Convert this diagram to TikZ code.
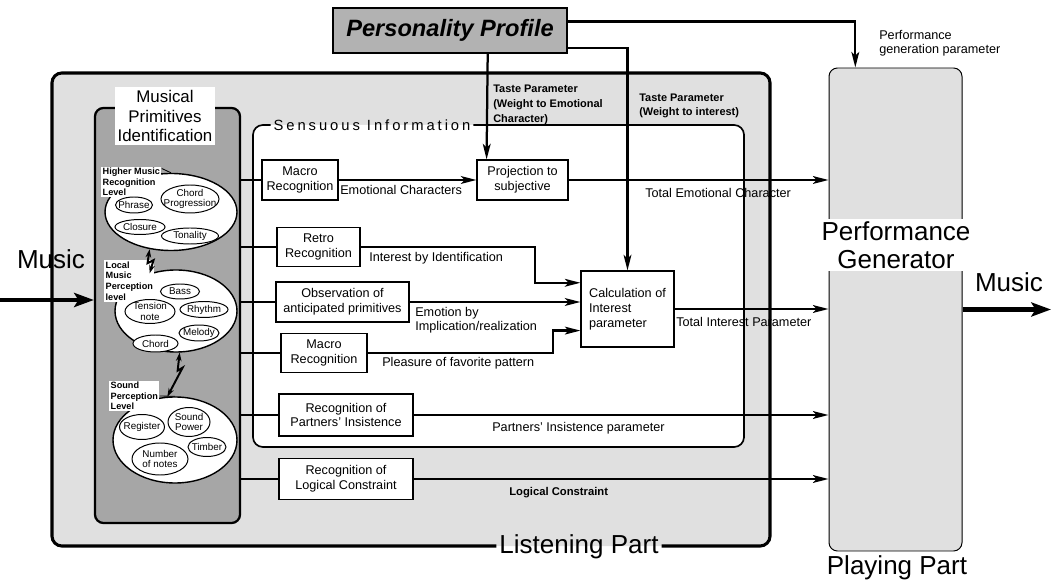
\documentclass[tikz,border=0pt]{standalone}
\usepackage{fontspec}
\setmainfont{Liberation Sans}
\usepackage{tikz}
\usetikzlibrary{calc,arrows.meta,shapes.geometric}
\def\fsz#1#2{\fontsize{#1}{#2}\selectfont}

\begin{document}
\begin{tikzpicture}[x=0.025cm, y=-0.025cm,
	wh/.style 2 args={minimum width=#1*0.025cm, minimum height=#2*0.025cm},
	box/.style={draw, line width=0.8pt, fill=white, align=center, inner sep=1pt, font=\fsz{9}{10.5}},
	ring/.style={ellipse, draw, fill=white, line width=1pt, inner sep=0pt},
	etxt/.style={inner sep=0pt, align=center, font=\fsz{7}{7.5}},
	elli/.style={ring, line width=0.7pt, label={[etxt]center:#1}},
	lvl/.style={fill=white, inner sep=1pt, align=left, anchor=west, font=\bfseries\fsz{6.5}{7.5}},
	lbl/.style={inner sep=0pt, align=left, anchor=west, font=\fsz{9}{10}},
	taste/.style={lbl, font=\bfseries\fsz{7.8}{10.5}},
	conn/.style={line width=1.6pt},
	arr/.style={conn, -{Stealth[length=11pt,width=5.5pt,inset=2.5pt]}},
	fat/.style={line width=3.5pt, -{Stealth[length=14pt,width=10pt,inset=3pt]}},
	zap/.style={line width=1.4pt, {Stealth[length=6pt,width=4pt]}-{Stealth[length=6pt,width=4pt]}},
	big/.style={inner sep=2pt, font=\fsz{18.5}{20}}]
			%%%%% START %%%%%
			\useasboundingbox (0,0) rectangle (1051,582);
			
			% listening part frame
			\fill[black!12, rounded corners=7pt] (52,73) rectangle (770,546);
			\node (lp) [big, anchor=base] at (579,553) {Listening Part};
			\draw[line width=2.2pt, rounded corners=7pt] (lp.west |- 0,546) -- (52,546) -- (52,73) -- (770,73) -- (770,546) -- (lp.east |- 0,546);
			
			% sensuous information frame
			\fill[white, rounded corners=7pt] (253,125) rectangle (744,447);
			\node (sens) [inner sep=2pt, font={\fsz{10.5}{12}\addfontfeature{LetterSpace=20}}] at (372,125) {Sensuous Information};
			\draw[line width=1.2pt, rounded corners=7pt] (sens.east |- 0,125) -- (744,125) -- (744,447) -- (253,447) -- (253,125) -- (sens.west |- 0,125);
			
			% musical primitives panel
			\node (mpi) [draw, line width=1.6pt, fill=black!35, rounded corners=6pt, wh={145}{415}] at (167.5,315.5) {};
			\node (mpit) [fill=white, inner sep=2pt, align=center, font=\fsz{12}{14}] at (165,116) {Musical\\Primitives\\Identification};
			
			\node (eh) [ring, wh={132}{77}] at (171,212) {};
			\node (lvlh) [lvl] at (101,182) {Higher Music\\Recognition\\Level};
			\node (phrase) [elli=Phrase, wh={37}{16}] at (134,205) {};
			\node (chordprog) [elli={Chord\\Progression}, wh={58}{28}] at (190,199) {};
			\node (closure) [elli=Closure, wh={50}{15}] at (140,227) {};
			\node (tonality) [elli=Tonality, wh={57}{16}] at (190,236) {};
			\draw[line width=0.6pt] ([yshift=-1.5pt]lvlh.north east) -- (eh.north);
			
			\node (el) [ring, wh={122}{82}] at (176,311) {};
			\node (lvll) [lvl] at (104,281) {Local\\Music\\Perception\\level};
			\node (bass) [elli=Bass, wh={39}{15}] at (180,291.5) {};
			\node (tension) [elli={Tension\\note}, wh={50}{24}] at (150,311.5) {};
			\node (rhythm) [elli=Rhythm, wh={48}{16}] at (204,309.5) {};
			\node (melody) [elli=Melody, wh={40}{16}] at (199,333) {};
			\node (chord) [elli=Chord, wh={45}{17}] at (155.5,343.5) {};
			
			\node (es) [ring, wh={124}{86}] at (175,440) {};
			\node (lvls) [lvl] at (109,396) {Sound\\Perception\\Level};
			\node (register) [elli=Register, wh={45}{25}] at (142,427) {};
			\node (soundpow) [elli={Sound\\Power}, wh={42}{29}] at (189,422) {};
			\node (timber) [elli=Timber, wh={38}{19}] at (207,447) {};
			\node (numnotes) [elli={Number\\of notes}, wh={56}{32}] at (160,459) {};
			\draw[line width=0.6pt] (lvls.east) -- (es.north);
			
			\draw[zap] (eh.240) -- ++(-2,14) -- ++(6,-3) -- (el.125);
			\draw[zap] (el.275) -- ++(-2,18) -- ++(5,-3) -- (es.100);
			
			% processing boxes
			\node (mr1) [box, wh={76}{40}] at (300,180) {Macro\\Recognition};
			\node (proj) [box, wh={91}{40}] at (522.5,180) {Projection to\\subjective};
			\node (retro) [box, wh={83}{39}] at (318.5,247) {Retro\\Recognition};
			\node (obs) [box, wh={133}{40}] at (342.5,302) {Observation of\\anticipated primitives};
			\node (mr2) [box, wh={86}{39}] at (324,353) {Macro\\Recognition};
			\node (calc) [box, wh={93}{76}, align=left] at (627.5,309) {Calculation of\\Interest\\parameter};
			\node (partners) [box, wh={134}{42}] at (346,415) {Recognition of\\Partners' Insistence};
			\node (logical) [box, wh={134}{41}] at (346,479) {Recognition of\\Logical Constraint};
			
			\node (pp) [draw, line width=1.2pt, fill=black!30, wh={234}{45}, font=\bfseries\itshape\fsz{16.8}{18}] at (450,30.5) {Personality Profile};
			\node (pg) [draw, line width=0.7pt, fill=black!12, rounded corners=6pt, wh={133}{483}] at (895.5,309.5) {};
			\node (pgt) [big, fill=white, align=center] at (896,245) {Performance\\Generator};
			\node (playing) [big, anchor=base] at (897,574) {Playing Part};
			
			% music in and out
			\node (musicin) [big, anchor=base] at (51,269) {Music};
			\coordinate (src) at (0,300);
			\draw[fat] (src) -- (src -| mpi.west);
			\node (musicout) [big, anchor=base] at (1009,292) {Music};
			\coordinate (sink) at (1051,309.5);
			\draw[fat] (pg.east) -- (sink);
			
			% rows out of the primitives panel
			\draw[conn] (mpi.east |- mr1.west) -- (mr1.west);
			\draw[conn] (mpi.east |- retro.west) -- (retro.west);
			\draw[conn] (mpi.east |- obs.west) -- (obs.west);
			\draw[conn] (mpi.east |- mr2.west) -- (mr2.west);
			\draw[conn] (mpi.east |- partners.west) -- (partners.west);
			\draw[conn] (mpi.east |- logical.west) -- (logical.west);
			
			\draw[arr] (mr1) -- (proj);
			\draw[arr] (proj) -- (proj -| pg.west);
			\draw[arr] (retro.east) -- (535,247) |- ($(calc.north west)!0.16!(calc.south west)$);
			\draw[arr] (obs.east) -- (obs.east -| calc.west);
			\draw[arr] (mr2.east) -- (553,353) |- ($(calc.north west)!0.78!(calc.south west)$);
			\draw[arr] (calc) -- (calc -| pg.west);
			\draw[arr] (partners) -- (partners -| pg.west);
			\draw[arr] (logical) -- (logical -| pg.west);
			
			% personality profile outputs
			\draw[arr] ($(pp.south west)!0.66!(pp.south east)$) -- ($(proj.north west)!0.11!(proj.north east)$);
			\draw[arr] ($(pp.north east)!0.87!(pp.south east)$) -| (calc.north);
			\draw[arr] ($(pp.north east)!0.31!(pp.south east)$) -| ($(pg.north west)!0.2!(pg.north east)$);
			
			% labels
			\node (lemo) [lbl] at (340,190) {Emotional Characters};
			\node (ltec) [lbl] at (645,193) {Total Emotional Character};
			\node (lint) [lbl] at (369,258) {Interest by Identification};
			\node (limp) [lbl] at (415,320) {Emotion by\\Implication/realization};
			\node (lple) [lbl] at (382,363) {Pleasure of favorite pattern};
			\node (ltip) [lbl] at (676,322) {Total Interest Parameter};
			\node (lpip) [lbl] at (492,428) {Partners' Insistence parameter};
			\node (llc) [lbl, font=\bfseries\fsz{8}{9}] at (509,493) {Logical Constraint};
			\node (ltp1) [taste] at (493,105) {Taste Parameter\\(Weight to Emotional\\Character)};
			\node (ltp2) [taste] at (639,106) {Taste Parameter\\(Weight to interest)};
			\node (lpgp) [lbl] at (879,43) {Performance\\generation parameter};
			
			%%%%% END %%%%%
\end{tikzpicture}
\end{document}
